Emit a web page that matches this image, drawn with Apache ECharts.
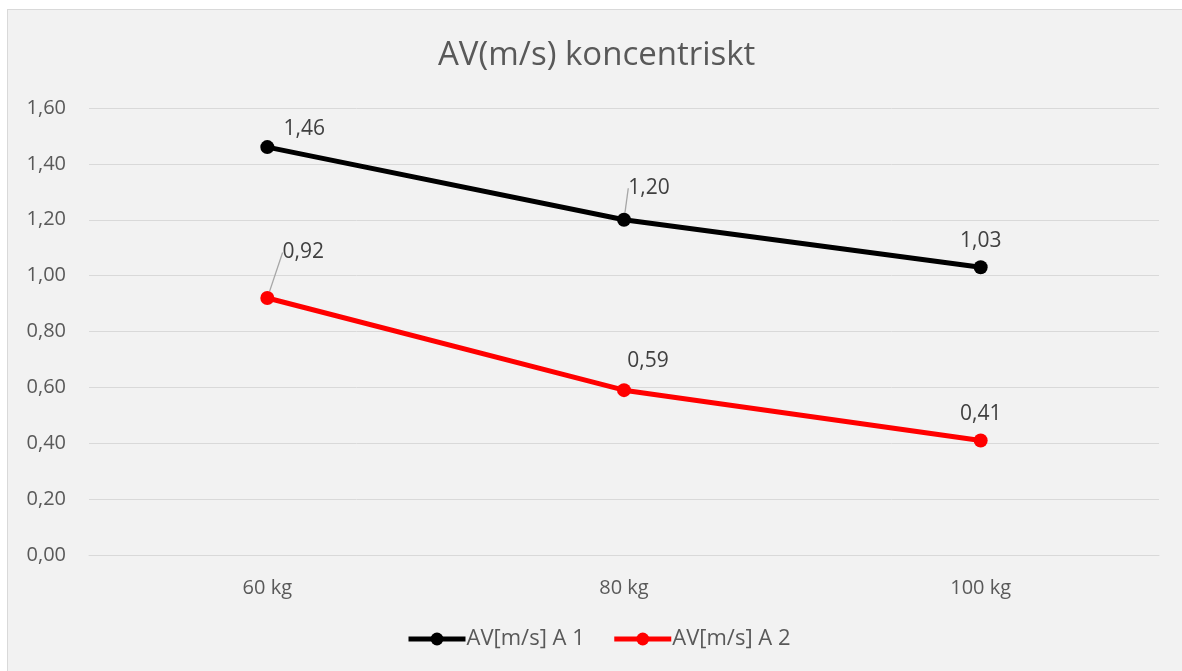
<!DOCTYPE html>
<html>
<head>
<meta charset="utf-8">
<script src="https://cdn.jsdelivr.net/npm/echarts@6/dist/echarts.min.js"></script>
<style>
  html, body { margin: 0; padding: 0; background: #ffffff; }
  #frame {
    position: absolute; left: 7px; top: 9px; width: 1175px; height: 662px;
    background: #f2f2f2; border-left: 1px solid #d9d9d9; border-top: 1px solid #d9d9d9;
    box-sizing: border-box;
  }
  #chart { position: absolute; left: 0; top: 0; width: 1182px; height: 671px; }
</style>
</head>
<body>
<div id="frame"></div>
<div id="chart"></div>
<script>
// Loads tested (kg) and mean velocity per attempt
const categories = ['60 kg', '80 kg', '100 kg'];
const seriesA1 = [1.46, 1.20, 1.03];
const seriesA2 = [0.92, 0.59, 0.41];
const seriesNames = ['AV[m/s] A 1', 'AV[m/s] A 2'];
const titleText = 'AV(m/s) koncentriskt';

const FONT = '"Open Sans", Carlito, Lato, sans-serif';
const fmt = v => v.toFixed(2).replace('.', ',');

// Per-point label shifts [dx, dy, leader line]
const shiftA1 = [[37, 8, false], [25, -5, true], [0, 0, false]];
const shiftA2 = [[36, -19, true], [24, -3, false], [0, 0, false]];

function makeSeries(name, values, color, shifts) {
  return {
    name: name,
    type: 'line',
    data: values.map((v, i) => ({ value: v, labelLine: { show: shifts[i][2] } })),
    symbol: 'circle',
    symbolSize: 14,
    lineStyle: { color: color, width: 5 },
    itemStyle: { color: color },
    label: {
      show: true,
      position: 'top',
      distance: 9,
      color: '#404040',
      fontSize: 21,
      fontFamily: FONT,
      formatter: p => fmt(p.value)
    },
    labelLine: { show: true, lineStyle: { color: '#a6a6a6', width: 1.3 } },
    labelLayout: p => ({ dx: shifts[p.dataIndex][0], dy: shifts[p.dataIndex][1] }),
    emphasis: { disabled: true },
    animation: false
  };
}

const chart = echarts.init(document.getElementById('chart'));
chart.setOption({
  backgroundColor: 'transparent',
  animation: false,
  title: {
    text: titleText,
    left: 433,
    top: 34,
    textStyle: { color: '#595959', fontSize: 33, fontWeight: 'normal', fontFamily: FONT }
  },
  legend: {
    top: 623,
    left: 401,
    itemWidth: 57,
    itemHeight: 16,
    itemGap: 27,
    textStyle: { color: '#595959', fontSize: 22, fontFamily: FONT, padding: [0, 0, 0, -4] },
    lineStyle: { width: 5 },
    data: seriesNames
  },
  grid: { left: 89, right: 23, top: 108, bottom: 116 },
  xAxis: {
    type: 'category',
    data: categories,
    boundaryGap: true,
    axisLine: { lineStyle: { color: '#d9d9d9', width: 1 } },
    axisTick: { show: false },
    axisLabel: { color: '#595959', fontSize: 20, fontFamily: FONT, margin: 23 }
  },
  yAxis: {
    type: 'value',
    min: 0,
    max: 1.6,
    interval: 0.2,
    axisLine: { show: false },
    axisTick: { show: false },
    splitLine: { lineStyle: { color: '#d9d9d9', width: 1 } },
    axisLabel: { color: '#595959', fontSize: 20, fontFamily: FONT, margin: 23, formatter: v => fmt(v) }
  },
  series: [
    makeSeries(seriesNames[0], seriesA1, '#000000', shiftA1),
    makeSeries(seriesNames[1], seriesA2, '#ff0000', shiftA2)
  ]
});
</script>
</body>
</html>
